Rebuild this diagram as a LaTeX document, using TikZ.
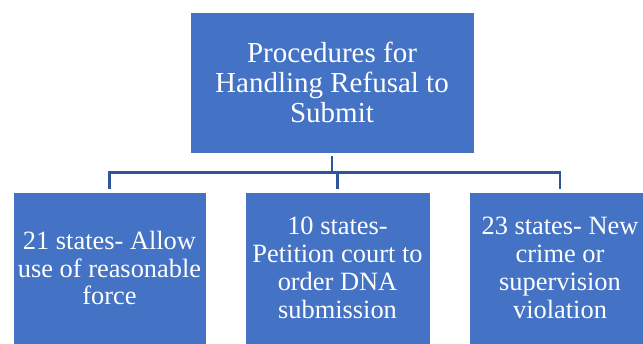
\documentclass[tikz,border=0pt]{standalone}
\usepackage{fontspec}
\setmainfont{Liberation Serif}
\definecolor{boxblue}{HTML}{4472C4}
\definecolor{linkblue}{HTML}{2F5597}
\begin{document}
\begin{tikzpicture}[x=1pt,y=-1pt,
  box/.style={rectangle, fill=boxblue, draw=white, line width=0.8pt, text=white, align=center, inner sep=0pt},
  topbox/.style={box, minimum width=284, minimum height=141, font=\fontsize{29}{30}\selectfont},
  subbox/.style={box, minimum height=152, font=\fontsize{26.4}{27.8}\selectfont},
  conn/.style={draw=linkblue, line width=2.5pt}]
\useasboundingbox (0,0) rectangle (643,344);
\clip (0,0) rectangle (643,344);
\node[topbox] (top) at (332,82.5) {Procedures for\\Handling Refusal to\\Submit};
\node[subbox, minimum width=193] (b1) at (109.5,268) {21 states- Allow\\use of reasonable\\force};
\node[subbox, minimum width=185] (b2) at (337.5,268) {10 states-\\Petition court to\\order DNA\\submission};
\node[subbox, minimum width=182] (b3) at (560,268) {23 states- New\\crime or\\supervision\\violation};
\coordinate (bus) at (0,172.5);
\draw[conn, shorten <=3pt] (top.south) -- (top.south |- bus);
\draw[conn, line cap=rect] (b1.north |- bus) -- (b3.north |- bus);
\foreach \b in {b1,b2,b3}{
  \draw[conn, shorten >=3pt] (\b.north |- bus) -- (\b.north);
}
\end{tikzpicture}
\end{document}
